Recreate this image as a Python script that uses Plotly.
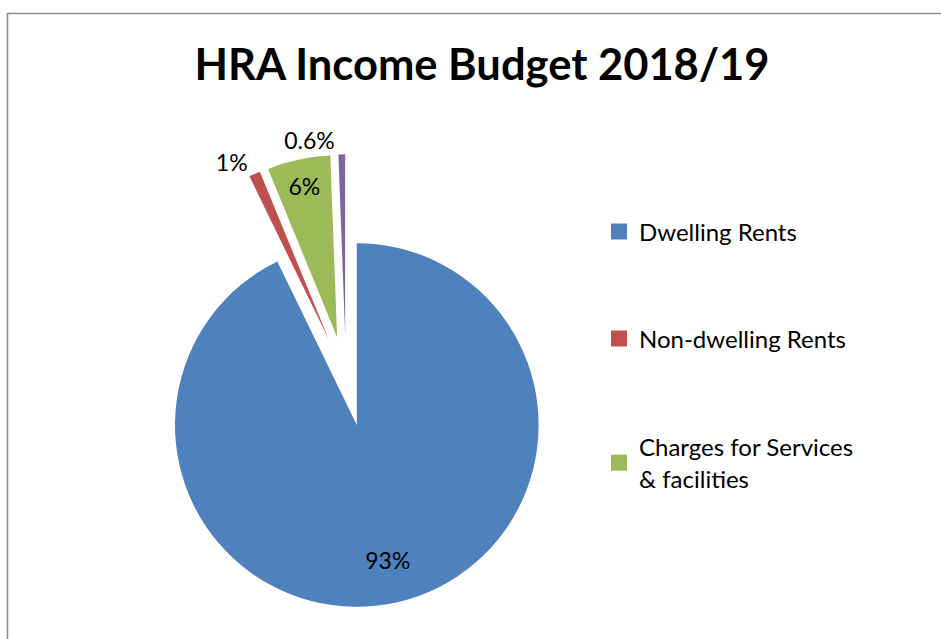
import plotly.graph_objects as go

categories = ["Dwelling Rents", "Non-dwelling Rents", "Charges for Services & facilities", "Other"]
legend_labels = ["Dwelling Rents", "Non-dwelling Rents", "Charges for Services<br>& facilities"]
values = [92.8, 1.0, 5.6, 0.6]
value_labels = ["93%", "1%", "6%", "0.6%"]
colors = ["#4F81BD", "#C0504D", "#9BBB59", "#8064A2"]

FONT = "Lato, Carlito, Calibri, sans-serif"
PULL = [0.265, 0.23, 0.23, 0.23]
DOMAIN = dict(x=[116 / 941, 576 / 941], y=[1 - 608 / 639, 1 - 148 / 639])
TRANSPARENT = ["rgba(0,0,0,0)"] * len(values)


def pie_layer(textpos, marker_colors, hole=0.0):
    return go.Pie(
        labels=categories,
        values=values,
        text=value_labels,
        textinfo="text",
        texttemplate="%{text}",
        textposition=textpos,
        insidetextorientation="horizontal",
        textfont=dict(family=FONT, size=23, color="black"),
        sort=False,
        direction="clockwise",
        rotation=0,
        pull=PULL,
        hole=hole,
        marker=dict(colors=marker_colors, line=dict(width=0)),
        domain=DOMAIN,
        showlegend=False,
        hoverinfo="label+percent" if marker_colors is colors else "skip",
    )


fig = go.Figure()
# main pie with the red (outside) and green (inside) labels
fig.add_trace(pie_layer(["none", "outside", "inside", "none"], colors))
# transparent copies carrying the other labels (same geometry)
fig.add_trace(pie_layer(["none", "none", "none", "outside"], TRANSPARENT))
fig.add_trace(pie_layer(["inside", "none", "none", "none"], TRANSPARENT, hole=0.52))

legend_ids = ["legend", "legend2", "legend3"]
legend_y = [232, 339, 463]
for name, col, lid in zip(legend_labels, colors[:3], legend_ids):
    fig.add_trace(go.Scatter(
        x=[None], y=[None], mode="markers", name=name,
        marker=dict(symbol="square", size=16, color=col),
        legend=lid, showlegend=True,
    ))

legend_common = dict(
    font=dict(family=FONT, size=24, color="black"),
    bgcolor="rgba(0,0,0,0)", borderwidth=0,
    xanchor="left", yanchor="middle", itemwidth=30,
)
layout_legends = {}
for lid, yy in zip(legend_ids, legend_y):
    layout_legends[lid] = dict(legend_common, x=599 / 941, y=1 - yy / 639)

fig.update_layout(
    width=941, height=639,
    margin=dict(l=0, r=0, t=0, b=0, autoexpand=False),
    paper_bgcolor="white", plot_bgcolor="white",
    title=dict(text="<b>HRA Income Budget 2018/19</b>",
               x=482 / 941, xanchor="center", y=1 - 65 / 639, yanchor="middle",
               font=dict(family=FONT, size=43.5, color="black")),
    xaxis=dict(visible=False), yaxis=dict(visible=False),
    shapes=[dict(type="rect", xref="paper", yref="paper",
                 x0=7.5 / 941, x1=1.02, y0=-0.02, y1=1 - 13.5 / 639,
                 line=dict(color="#8C8C8C", width=1.5), fillcolor="rgba(0,0,0,0)",
                 layer="below")],
    **layout_legends,
)

post = """
document.documentElement.style.margin='0';
document.body.style.margin='0';
document.body.style.overflow='hidden';
"""

fig.write_html("out.html", post_script=post, config={"displayModeBar": False})
